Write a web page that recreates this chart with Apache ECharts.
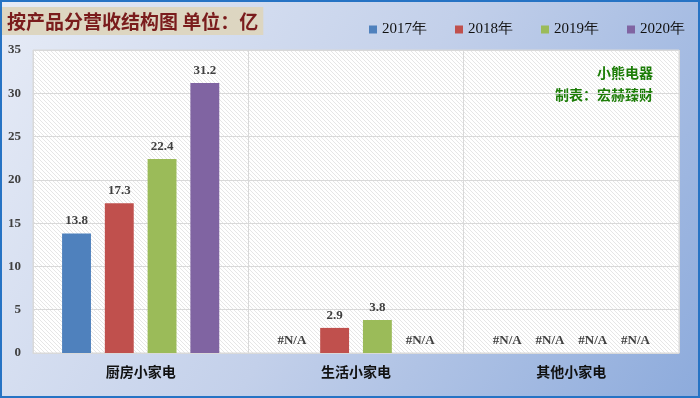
<!DOCTYPE html>
<html>
<head>
<meta charset="utf-8">
<script src="https://cdn.jsdelivr.net/npm/echarts@6/dist/echarts.min.js"></script>
<style>
html, body { margin: 0; padding: 0; }
#chart { width: 700px; height: 398px; box-sizing: border-box; border: 2px solid #2673c4; }
</style>
</head>
<body>
<div id="chart"></div>
<script>
// DATA
var categories = ['厨房小家电', '生活小家电', '其他小家电'];
var years = ['2017年', '2018年', '2019年', '2020年'];
var v2017 = [13.8, null, null];
var v2018 = [17.3, 2.9, null];
var v2019 = [22.4, 3.8, null];
var v2020 = [31.2, null, null];
var colors = ['#4f81bd', '#c0504d', '#9bbb59', '#8064a2'];

// hatch pattern for the plot area
function makeHatch() {
	var c = document.createElement('canvas');
	c.width = 4;
	c.height = 4;
	var ctx = c.getContext('2d');
	ctx.fillStyle = '#ffffff';
	ctx.fillRect(0, 0, 4, 4);
	ctx.strokeStyle = '#e6e6e6';
	ctx.lineWidth = 1;
	ctx.beginPath();
	ctx.moveTo(0, 0);
	ctx.lineTo(4, 4);
	ctx.moveTo(-2, 2);
	ctx.lineTo(2, 6);
	ctx.moveTo(2, -2);
	ctx.lineTo(6, 2);
	ctx.stroke();
	return c;
}

function buildSeries(name, values, color) {
	var data = values.map(function (v) {
		if (v == null) {
			return { value: 0, label: { formatter: '#N/A' } };
		}
		return v;
	});
	return {
		name: name,
		type: 'bar',
		data: data,
		barGap: '48%',
		barCategoryGap: '27%',
		itemStyle: { color: color },
		label: {
			show: true,
			position: 'top',
			distance: 6,
			fontFamily: 'Liberation Serif',
			fontWeight: 'bold',
			fontSize: 13,
			color: '#404040'
		}
	};
}

var chart = echarts.init(document.getElementById('chart'));
var option = {
	backgroundColor: {
		type: 'linear', x: 0, y: 0, x2: 1, y2: 1,
		colorStops: [
			{ offset: 0, color: '#e6ebf6' },
			{ offset: 0.5, color: '#c3d0ea' },
			{ offset: 1, color: '#8dabdc' }
		]
	},
	title: {
		text: '按产品分营收结构图 单位：亿',
		left: 0,
		top: 5,
		padding: [5, 5, 4, 5],
		backgroundColor: '#ddd6c1',
		textStyle: {
			fontFamily: 'Noto Sans CJK SC',
			fontWeight: 'bold',
			fontSize: 19,
			color: '#7a1c1c'
		}
	},
	legend: {
		data: years,
		left: 362,
		top: 15,
		icon: 'rect',
		itemWidth: 8,
		itemHeight: 8,
		itemGap: 28,
		textStyle: { fontFamily: 'Liberation Serif', fontSize: 15, color: '#111' }
	},
	grid: {
		left: 31,
		right: 19,
		top: 48,
		bottom: 43,
		show: true,
		borderColor: '#d9d9d9',
		backgroundColor: { image: makeHatch(), repeat: 'repeat' }
	},
	xAxis: {
		type: 'category',
		data: categories,
		axisLine: { lineStyle: { color: '#d9d9d9' } },
		axisTick: { show: false },
		splitLine: { show: true, lineStyle: { color: '#d9d9d9' } },
		axisLabel: {
			margin: 12,
			fontFamily: 'Noto Sans CJK SC',
			fontWeight: 'bold',
			fontSize: 14,
			color: '#111'
		}
	},
	yAxis: {
		type: 'value',
		min: 0,
		max: 35,
		interval: 5,
		axisLine: { show: false },
		axisTick: { show: false },
		splitLine: { lineStyle: { color: '#d9d9d9' } },
		axisLabel: {
			margin: 12,
			fontFamily: 'Liberation Serif',
			fontWeight: 'bold',
			fontSize: 13,
			color: '#404040'
		}
	},
	graphic: [
		{
			type: 'text', right: 45, top: 64,
			style: { text: '小熊电器', font: 'bold 14px "Noto Sans CJK SC"', fill: '#1d7d08', textAlign: 'right' }
		},
		{
			type: 'text', right: 45, top: 86,
			style: { text: '制表：宏赫臻财', font: 'bold 14px "Noto Sans CJK SC"', fill: '#1d7d08', textAlign: 'right' }
		}
	],
	series: [
		buildSeries(years[0], v2017, colors[0]),
		buildSeries(years[1], v2018, colors[1]),
		buildSeries(years[2], v2019, colors[2]),
		buildSeries(years[3], v2020, colors[3])
	]
};
chart.setOption(option);
</script>
</body>
</html>
